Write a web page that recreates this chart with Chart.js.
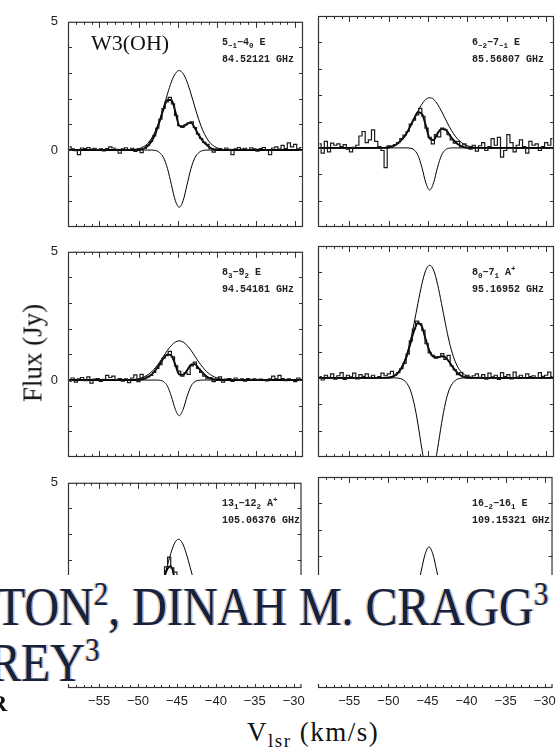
<!DOCTYPE html>
<html>
<head>
<meta charset="utf-8">
<script src="https://cdn.jsdelivr.net/npm/chart.js@4.4.1/dist/chart.umd.min.js"></script>
<style>
  html, body { margin: 0; padding: 0; background: #fff; }
  #page { position: relative; width: 559px; height: 749px; overflow: hidden; background: #fff; }
  .panel { position: absolute; z-index: 1; }
  .txt { position: absolute; white-space: nowrap; line-height: 1; color: #111; z-index: 3; }
  .lab { font-family: 'Liberation Mono', monospace; font-size: 10px; font-weight: bold; color: #222; }
  .lab sub, .lab sup { font-size: 7.5px; line-height: 0; }
  .lab sub { vertical-align: -3px; }
  .lab sup { vertical-align: 4px; }
  .serif { font-family: 'Liberation Serif', serif; }
  #cover { position: absolute; left: 0; top: 575px; width: 557px; height: 109px; background: #fff; z-index: 5; overflow: hidden; }
  .big { font-family: 'Liberation Serif', serif; font-size: 48px; color: #16213e;
         text-shadow: -1.5px 0 0 rgba(235,150,70,0.55), 1.5px 0 0 rgba(60,120,225,0.5); }
  .big sup { font-size: 29px; line-height: 0; vertical-align: 17px; }
</style>
</head>
<body>
<div id="page"></div>
<script>
// channel velocities of the observed spectra (km/s)
const vChan = [
  -58.8, -58.4, -58.0, -57.6, -57.2, -56.8, -56.4, -56.0, -55.6, -55.2,
  -54.8, -54.4, -54.0, -53.6, -53.2, -52.8, -52.4, -52.0, -51.6, -51.2,
  -50.8, -50.4, -50.0, -49.6, -49.2, -48.8, -48.4, -48.0, -47.6, -47.2,
  -46.8, -46.4, -46.0, -45.6, -45.2, -44.8, -44.4, -44.0, -43.6, -43.2,
  -42.8, -42.4, -42.0, -41.6, -41.2, -40.8, -40.4, -40.0, -39.6, -39.2,
  -38.8, -38.4, -38.0, -37.6, -37.2, -36.8, -36.4, -36.0, -35.6, -35.2,
  -34.8, -34.4, -34.0, -33.6, -33.2, -32.8, -32.4, -32.0, -31.6, -31.2,
  -30.8, -30.4, -30.0, -29.6, -29.2
];

const vModel = [
  -59, -52.3, -51.8, -51.3, -50.8, -50.3, -49.8, -49.3, -48.8, -48.3, -47.8,
  -47.3, -46.8, -46.3, -45.8, -45.3, -44.8, -44.3, -43.8, -43.3, -42.8,
  -42.3, -41.8, -41.3, -40.8, -40.3, -39.8, -39.3, -38.8, -38.3, -37.8, -37.3, -29
];

// observed flux (Jy)
const obs1 = [
  0.12, 0.05, -0.02, -0.18, 0.08, 0.06, 0.10, 0.04, 0.07, 0.02,
  0.05, -0.03, 0.06, 0.12, 0.08, 0.03, -0.12, 0.05, 0.09, 0.02,
  0.07, -0.05, 0.04, -0.10, 0.06, 0.18, 0.34, 0.55, 0.85, 1.20,
  1.62, 1.88, 2.05, 1.80, 1.35, 0.95, 0.88, 0.98, 1.05, 1.10,
  0.88, 0.62, 0.45, 0.30, 0.22, 0.05, -0.08, 0.04, 0.06, 0.02,
  0.08, 0.03, -0.18, 0.05, 0.10, 0.04, 0.07, 0.02, 0.09, 0.05,
  -0.04, 0.06, 0.10, 0.02, -0.18, 0.08, 0.12, 0.04, 0.18, 0.06,
  0.28, 0.12, 0.22, 0.05, 0.10
];
const obs2 = [
  0.15, -0.20, 0.25, -0.15, 0.18, 0.10, 0.15, 0.05, 0.12, -0.05,
  -0.15, 0.02, 0.10, 0.45, 0.62, 0.20, 0.30, 0.68, 0.25, 0.05,
  -0.10, -0.75, 0.08, 0.05, 0.12, 0.20, 0.35, 0.48, 0.62, 0.90,
  1.05, 1.25, 1.50, 1.20, 0.75, 0.40, 0.15, 0.50, 0.42, 0.75,
  0.68, 0.50, 0.30, 0.18, 0.25, 0.05, 0.15, 0.02, -0.05, 0.10,
  -0.12, 0.08, 0.20, -0.10, 0.05, 0.35, 0.10, 0.40, -0.35, -0.10,
  0.50, 0.20, -0.15, 0.10, 0.30, 0.05, -0.20, 0.25, 0.10, 0.15,
  -0.10, 0.05, 0.20, 0.10, 0.35
];
const obs3 = [
  -0.05, 0.08, -0.08, 0.05, 0.10, -0.02, 0.12, -0.12, 0.04, 0.06,
  -0.05, 0.03, 0.18, 0.10, 0.15, 0.02, 0.06, -0.04, 0.05, -0.10,
  0.08, 0.20, -0.06, 0.22, 0.05, 0.12, 0.18, 0.30, 0.45, 0.60,
  0.85, 0.95, 1.12, 0.90, 0.55, 0.35, 0.15, 0.28, 0.22, 0.55,
  0.70, 0.45, 0.30, 0.15, 0.05, 0.10, -0.06, 0.05, 0.12, -0.08,
  0.04, 0.06, -0.05, 0.08, 0.02, 0.05, -0.04, 0.06, 0.02, 0.05,
  0.00, 0.04, 0.02, -0.03, 0.05, 0.15, 0.05, 0.18, 0.06, -0.02,
  0.05, 0.02, -0.06, 0.08, 0.03
];
const obs4 = [
  0.05, -0.08, 0.10, 0.02, 0.15, -0.05, 0.08, 0.20, -0.06, 0.10,
  0.04, 0.18, -0.04, 0.12, 0.06, 0.15, 0.02, 0.10, -0.02, 0.05,
  0.18, 0.08, 0.15, 0.25, 0.10, 0.20, 0.35, 0.55, 0.90, 1.40,
  1.85, 2.15, 2.05, 1.80, 1.30, 0.95, 0.85, 0.75, 0.80, 0.92,
  0.70, 0.85, 0.45, 0.30, 0.12, 0.20, 0.05, 0.10, -0.02, 0.08,
  0.15, 0.02, 0.12, -0.05, 0.18, 0.04, 0.10, -0.06, 0.20, 0.05,
  0.12, -0.04, 0.22, 0.03, 0.10, 0.00, 0.15, 0.05, 0.08, -0.02,
  0.20, 0.06, 0.10, 0.22, 0.05
];
const obs5 = [
  0.05, -0.05, 0.10, 0.02, -0.08, 0.06, 0.12, -0.02, 0.04, 0.08,
  -0.06, 0.10, 0.03, -0.04, 0.07, 0.12, 0.00, 0.05, -0.10, 0.06,
  0.02, 0.10, -0.03, 0.05, 0.08, 0.10, 0.22, 0.35, 0.55, 0.85,
  1.30, 1.72, 2.10, 1.68, 1.52, 0.80, 0.70, 0.85, 0.90, 0.75,
  0.60, 0.40, 0.25, 0.15, 0.05, 0.08, -0.04, 0.06, 0.10, -0.05,
  0.03, 0.08, 0.02, -0.06, 0.05, 0.12, 0.00, 0.04, -0.08, 0.06,
  0.10, 0.02, -0.03, 0.07, 0.04, -0.05, 0.09, 0.02, 0.06, -0.02,
  0.10, 0.03, -0.06, 0.05, 0.08
];
const obs6 = [
  0.04, -0.06, 0.08, 0.10, -0.02, 0.05, -0.10, 0.06, 0.12, 0.02,
  -0.05, 0.07, 0.03, 0.10, -0.04, 0.05, 0.08, -0.08, 0.02, 0.06,
  0.12, -0.03, 0.05, 0.02, 0.08, 0.04, 0.10, 0.18, 0.30, 0.45,
  0.62, 0.80, 0.88, 0.82, 0.78, 0.90, 0.72, 0.65, 0.48, 0.30,
  0.20, 0.08, 0.10, -0.05, 0.06, 0.02, 0.10, -0.06, 0.04, 0.08,
  -0.02, 0.12, 0.03, 0.05, -0.08, 0.06, 0.10, 0.02, -0.04, 0.07,
  0.05, 0.12, -0.03, 0.04, 0.08, -0.06, 0.10, 0.03, 0.06, -0.02,
  0.09, 0.04, 0.12, -0.05, 0.06
];

// total fit (thick line), on vModel
const fit1 = [0, 0, 0, 0, 0, 0, 0.02, 0.06, 0.16, 0.36, 0.68, 1.12, 1.6, 1.95, 1.95, 1.5, 0.95,
  0.92, 1.02, 1.07, 0.85, 0.58, 0.36, 0.2, 0.08, 0.02, 0, 0, 0, 0, 0, 0, 0];
const fit2 = [0, 0, 0, 0, 0, 0, 0.03, 0.08, 0.18, 0.33, 0.52, 0.8, 1.1, 1.35, 1.3, 0.85, 0.35,
  0.3, 0.55, 0.72, 0.7, 0.5, 0.3, 0.16, 0.07, 0.02, 0, 0, 0, 0, 0, 0, 0];
const fit3 = [0, 0, 0, 0, 0, 0, 0.02, 0.05, 0.12, 0.22, 0.4, 0.62, 0.85, 1.0, 0.95, 0.6, 0.22,
  0.2, 0.38, 0.6, 0.62, 0.45, 0.28, 0.14, 0.06, 0.02, 0, 0, 0, 0, 0, 0, 0];
const fit4 = [0, 0, 0, 0, 0, 0, 0.02, 0.07, 0.2, 0.42, 0.75, 1.25, 1.78, 2.08, 1.95, 1.45, 1.0,
  0.8, 0.78, 0.82, 0.78, 0.6, 0.38, 0.2, 0.08, 0.02, 0, 0, 0, 0, 0, 0, 0];
const fit5 = [0, 0, 0, 0, 0, 0, 0, 0.02, 0.06, 0.15, 0.35, 0.7, 1.15, 1.6, 1.75, 1.3, 0.8,
  0.75, 0.85, 0.8, 0.6, 0.35, 0.18, 0.07, 0.02, 0, 0, 0, 0, 0, 0, 0, 0];
const fit6 = [0, 0, 0, 0, 0, 0, 0, 0, 0, 0, 0.03, 0.09, 0.25, 0.5, 0.74, 0.84, 0.85,
  0.84, 0.74, 0.5, 0.25, 0.09, 0.03, 0, 0, 0, 0, 0, 0, 0, 0, 0, 0];

// emission component, on vModel
const emis1 = [0, 0, 0, 0, 0.01, 0.03, 0.07, 0.14, 0.26, 0.47, 0.77, 1.18, 1.67, 2.19, 2.66, 2.98, 3.10,
  2.98, 2.66, 2.19, 1.67, 1.18, 0.77, 0.47, 0.26, 0.14, 0.07, 0.03, 0.01, 0, 0, 0, 0];
const emis2 = [0, 0, 0, 0.01, 0.01, 0.03, 0.06, 0.11, 0.21, 0.35, 0.55, 0.80, 1.09, 1.39, 1.65, 1.84, 1.90,
  1.84, 1.65, 1.39, 1.09, 0.80, 0.55, 0.35, 0.21, 0.11, 0.06, 0.03, 0.01, 0.01, 0, 0, 0];
const emis3 = [0, 0, 0, 0.01, 0.02, 0.03, 0.07, 0.12, 0.21, 0.33, 0.50, 0.70, 0.93, 1.16, 1.35, 1.48, 1.53,
  1.48, 1.35, 1.16, 0.93, 0.70, 0.50, 0.33, 0.21, 0.12, 0.07, 0.03, 0.02, 0.01, 0, 0, 0];
const emis4 = [0, 0, 0, 0, 0.01, 0.02, 0.04, 0.10, 0.23, 0.45, 0.82, 1.35, 2.05, 2.82, 3.55, 4.08, 4.27,
  4.08, 3.55, 2.82, 2.05, 1.35, 0.82, 0.45, 0.23, 0.10, 0.04, 0.02, 0.01, 0, 0, 0, 0];
const emis5 = [0, 0, 0, 0, 0, 0, 0.01, 0.03, 0.08, 0.18, 0.38, 0.70, 1.15, 1.70, 2.24, 2.65, 2.80,
  2.65, 2.24, 1.70, 1.15, 0.70, 0.38, 0.18, 0.08, 0.03, 0.01, 0, 0, 0, 0, 0, 0];
const emis6 = [0, 0, 0, 0, 0, 0, 0, 0, 0, 0.01, 0.03, 0.10, 0.32, 0.76, 1.43, 2.07, 2.35,
  2.07, 1.43, 0.76, 0.32, 0.10, 0.03, 0.01, 0, 0, 0, 0, 0, 0, 0, 0, 0];

// absorption component, on vModel
const absn1 = [0, 0, 0, 0, 0, 0, 0, 0, 0, 0, -0.02, -0.10, -0.30, -0.72, -1.35, -1.97, -2.23,
  -1.97, -1.35, -0.72, -0.30, -0.10, -0.02, 0, 0, 0, 0, 0, 0, 0, 0, 0, 0];
const absn2 = [0, 0, 0, 0, 0, 0, 0, 0, 0, 0, 0, -0.01, -0.07, -0.28, -0.73, -1.32, -1.60,
  -1.32, -0.73, -0.28, -0.07, -0.01, 0, 0, 0, 0, 0, 0, 0, 0, 0, 0, 0];
const absn3 = [0, 0, 0, 0, 0, 0, 0, 0, 0, 0, 0, -0.01, -0.06, -0.24, -0.64, -1.14, -1.39,
  -1.14, -0.64, -0.24, -0.06, -0.01, 0, 0, 0, 0, 0, 0, 0, 0, 0, 0, 0];
const absn4 = [0, 0, 0, 0, 0, 0, 0, 0, -0.01, -0.05, -0.17, -0.43, -0.95, -1.74, -2.69, -3.48, -3.80,
  -3.48, -2.69, -1.74, -0.95, -0.43, -0.17, -0.05, -0.01, 0, 0, 0, 0, 0, 0, 0, 0];
const absn5 = [0, 0, 0, 0, 0, 0, 0, 0, 0, 0, -0.02, -0.09, -0.27, -0.65, -1.21, -1.76, -2.00,
  -1.76, -1.21, -0.65, -0.27, -0.09, -0.02, 0, 0, 0, 0, 0, 0, 0, 0, 0, 0];
const absn6 = [0, 0, 0, 0, 0, 0, 0, 0, 0, 0, 0, -0.01, -0.07, -0.26, -0.69, -1.23, -1.50,
  -1.23, -0.69, -0.26, -0.07, -0.01, 0, 0, 0, 0, 0, 0, 0, 0, 0, 0, 0];

const lineNames = [
  '5_{−1}−4_{0} E', '6_{−2}−7_{−1} E', '8_{3}−9_{2} E',
  '8_{0}−7_{1} A^{+}', '13_{1}−12_{2} A^{+}', '16_{−2}−16_{1} E'
];
const lineFreqs = [
  '84.52121 GHz', '85.56807 GHz', '94.54181 GHz',
  '95.16952 GHz', '105.06376 GHz', '109.15321 GHz'
];

const xTickVals = [-55, -50, -45, -40, -35, -30];
const xTickLabels = ['−55', '−50', '−45', '−40', '−35', '−30'];
const yTickVals = [0, 5];
const yTickLabels = ['0', '5'];

const observed = [obs1, obs2, obs3, obs4, obs5, obs6];
const fits = [fit1, fit2, fit3, fit4, fit5, fit6];
const emission = [emis1, emis2, emis3, emis4, emis5, emis6];
const absorption = [absn1, absn2, absn3, absn4, absn5, absn6];

// panel geometry
const colLeft = [68, 318];
const colWidth = [235, 236];
const rowTop = [16, 246, 477];
const plotH = 211;
const padL = 40, padT = 12, padR = 8, padB = 28;

const page = document.getElementById('page');

function pairs(xs, ys) {
  return xs.map((x, i) => ({ x: x, y: ys[i] }));
}

function markup(s) {
  return s.replace(/_\{([^}]*)\}/g, '<sub>$1</sub>').replace(/\^\{([^}]*)\}/g, '<sup>$1</sup>');
}

function putText(parent, html, cls, left, base, k, size) {
  const d = document.createElement('div');
  d.className = 'txt ' + cls;
  d.innerHTML = html;
  d.style.left = left + 'px';
  d.style.top = (base - k * size) + 'px';
  parent.appendChild(d);
  return d;
}

// frame with inward ticks, as in the printed figure
const framePlugin = {
  id: 'frame',
  afterDatasetsDraw(chart) {
    const ctx = chart.ctx;
    const a = chart.chartArea;
    const x = chart.scales.x, y = chart.scales.y;
    ctx.save();
    ctx.strokeStyle = '#333';
    ctx.lineWidth = 1.2;
    ctx.strokeRect(a.left + 0.5, a.top + 0.5, a.right - a.left - 1, a.bottom - a.top - 1);
    ctx.beginPath();
    for (let v = -58; v <= -30; v++) {
      const px = Math.round(x.getPixelForValue(v)) + 0.5;
      const len = v % 5 === 0 ? 6 : 3;
      ctx.moveTo(px, a.bottom); ctx.lineTo(px, a.bottom - len);
      ctx.moveTo(px, a.top); ctx.lineTo(px, a.top + len);
    }
    for (let v = -2; v <= 4; v++) {
      const py = Math.round(y.getPixelForValue(v)) + 0.5;
      ctx.moveTo(a.left, py); ctx.lineTo(a.left + 4, py);
      ctx.moveTo(a.right, py); ctx.lineTo(a.right - 4, py);
    }
    ctx.lineWidth = 1;
    ctx.stroke();
    ctx.restore();
  }
};

function makePanel(p) {
  const row = Math.floor(p / 2), col = p % 2;
  const w = padL + colWidth[col] + padR, h = padT + plotH + padB;
  const box = document.createElement('div');
  box.className = 'panel';
  box.style.left = (colLeft[col] - padL) + 'px';
  box.style.top = (rowTop[row] - padT) + 'px';
  box.style.width = w + 'px';
  box.style.height = h + 'px';
  const cv = document.createElement('canvas');
  cv.width = w;
  cv.height = h;
  box.appendChild(cv);
  page.appendChild(box);

  const tickFont = { family: "'Liberation Sans', Arial, sans-serif", size: 13 };

  new Chart(cv, {
    type: 'line',
    data: {
      datasets: [
        { data: pairs(vChan, observed[p]), stepped: 'middle', borderColor: '#1a1a1a', borderWidth: 1.2 },
        { data: pairs(vModel, fits[p]), cubicInterpolationMode: 'monotone', borderColor: '#000', borderWidth: 1.9 },
        { data: pairs(vModel, emission[p]), cubicInterpolationMode: 'monotone', borderColor: '#000', borderWidth: 1 },
        { data: pairs(vModel, absorption[p]), cubicInterpolationMode: 'monotone', borderColor: '#000', borderWidth: 1 },
      ],
    },
    options: {
      responsive: false,
      animation: false,
      events: [],
      layout: { padding: { left: 0, top: padT, right: padR, bottom: 0 } },
      elements: { point: { radius: 0 }, line: { fill: false } },
      plugins: { legend: { display: false }, tooltip: { enabled: false } },
      scales: {
        x: {
          type: 'linear',
          min: -59,
          max: -29,
          grid: { display: false, drawTicks: false },
          border: { display: false },
          afterFit: s => { s.height = padB; },
          afterBuildTicks: s => { s.ticks = xTickVals.map(v => ({ value: v })); },
          ticks: {
            display: row === 2,
            padding: 6,
            maxRotation: 0,
            autoSkip: false,
            color: '#222',
            font: tickFont,
            callback: (v, i) => xTickLabels[i],
          },
        },
        y: {
          min: -3,
          max: 5,
          grid: { display: false, drawTicks: false },
          border: { display: false },
          afterFit: s => { s.width = padL; },
          afterBuildTicks: s => { s.ticks = yTickVals.map(v => ({ value: v })); },
          ticks: {
            display: col === 0,
            padding: 10,
            color: '#222',
            font: tickFont,
            callback: (v, i) => yTickLabels[i],
          },
        },
      },
    },
    plugins: [framePlugin],
  });

  const lx = colLeft[col] + 154;
  putText(page, markup(lineNames[p]), 'lab', lx, rowTop[row] + 30, 0.77, 10);
  putText(page, lineFreqs[p], 'lab', lx, rowTop[row] + 47, 0.77, 10);
}

for (let p = 0; p < 6; p++) {
  makePanel(p);
}

// figure texts
putText(page, 'W3(OH)', 'serif', 91, 50, 0.84, 22).style.fontSize = '22px';
const yTitle = putText(page, 'Flux (Jy)', 'serif', 0, 0, 0, 27);
yTitle.style.fontSize = '27px';
yTitle.style.left = '33px';
yTitle.style.top = '353px';
yTitle.style.transform = 'translate(-50%, -50%) rotate(-90deg)';
const xTitle = putText(page, 'V<sub style="font-size:19px;line-height:0;vertical-align:-6px">lsr</sub> (km/s)', 'serif', 247, 742, 0.84, 27);
xTitle.style.fontSize = '27px';
xTitle.style.letterSpacing = '1.5px';

// pasted header fragment covering the bottom panels
const cover = document.createElement('div');
cover.id = 'cover';
page.appendChild(cover);
const l1 = putText(cover, 'TON<sup>2</sup>, DINAH M. CRAGG<sup>3</sup>', 'big', -4, 50, 0.84, 48);
const l2 = putText(cover, 'REY<sup>3</sup>', 'big', -11, 106, 0.84, 48);
[l1, l2].forEach(el => {
  el.style.transformOrigin = '0 40px';
  el.style.transform = 'scaleY(1.15)';
});
const r = putText(page, 'R', 'serif', -10, 711, 0.84, 24);
r.style.fontSize = '24px';
r.style.fontWeight = 'bold';
</script>
</body>
</html>
